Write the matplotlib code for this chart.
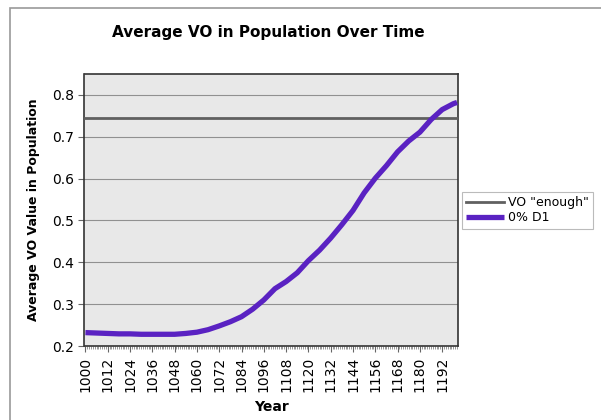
import matplotlib
matplotlib.use("Agg")
import matplotlib.pyplot as plt
from matplotlib.patches import Rectangle
from matplotlib.ticker import MultipleLocator

years = [1000, 1006, 1012, 1018, 1024, 1030, 1036, 1042, 1048, 1054, 1060, 1066,
         1072, 1078, 1084, 1090, 1096, 1102, 1108, 1114, 1120, 1126, 1132, 1138,
         1144, 1150, 1156, 1162, 1168, 1174, 1180, 1186, 1192, 1198, 1200]
d1_values = [0.232, 0.231, 0.230, 0.229, 0.229, 0.228, 0.228, 0.228, 0.228, 0.230,
             0.233, 0.239, 0.248, 0.258, 0.270, 0.288, 0.310, 0.337, 0.354, 0.375,
             0.404, 0.429, 0.458, 0.490, 0.524, 0.566, 0.601, 0.631, 0.664, 0.690,
             0.711, 0.741, 0.765, 0.779, 0.782]
enough_value = 0.745
xtick_labels = list(range(1000, 1193, 12))
yticks = [0.2, 0.3, 0.4, 0.5, 0.6, 0.7, 0.8]

fig = plt.figure(figsize=(6.01, 4.2), dpi=100)
fig.patches.append(Rectangle((10.5/601, -0.1), 1.2, 1 - 8/420 + 0.1,
                             transform=fig.transFigure, fill=False,
                             edgecolor="#999999", lw=1.2))

ax = fig.add_axes([84.5/601, 1 - 346/420, (458 - 84.5)/601, (346 - 74)/420])
ax.set_facecolor("#e8e8e8")

for y in yticks[1:]:
    ax.axhline(y, color="#909090", lw=0.8, zorder=1)

ax.plot([999.5, 1200.5], [enough_value, enough_value], color="#606060", lw=2.0,
        label='VO "enough"', zorder=3)
ax.plot(years, d1_values, color="#5a22c2", lw=3.8, label="0% D1", zorder=4,
        solid_capstyle="butt", solid_joinstyle="round")

ax.set_xlim(999.5, 1200.5)
ax.set_ylim(0.2, 0.85)
ax.set_yticks(yticks)
ax.set_yticklabels([f"{v:.1f}" for v in yticks], fontsize=10)
ax.set_xticks(xtick_labels)
ax.set_xticklabels([str(v) for v in xtick_labels], rotation=90, fontsize=10)
ax.xaxis.set_minor_locator(MultipleLocator(1))
ax.tick_params(axis="x", which="major", length=4, width=0.8, color="#666666")
ax.tick_params(axis="x", which="minor", length=2.5, width=0.6, color="#888888")
ax.tick_params(axis="y", length=4, width=0.8, color="#666666")
for s in ax.spines.values():
    s.set_color("#333333")
    s.set_linewidth(1.2)

ax.set_ylabel("Average VO Value in Population", fontsize=9, fontweight="bold",
              labelpad=9)
ax.set_xlabel("Year", fontsize=10, fontweight="bold", labelpad=6)
fig.text(0.447, 1 - 33/420, "Average VO in Population Over Time", ha="center",
         va="center", fontsize=11, fontweight="bold")

leg = fig.legend(loc="upper left", bbox_to_anchor=(462/601, 1 - 192/420),
                 fontsize=9, frameon=True, fancybox=False, borderpad=0.35,
                 handlelength=3.0, handletextpad=0.3, labelspacing=0.15,
                 borderaxespad=0)
leg.get_frame().set_edgecolor("#aaaaaa")
leg.get_frame().set_linewidth(0.8)

fig.savefig("out.png", dpi=100)
